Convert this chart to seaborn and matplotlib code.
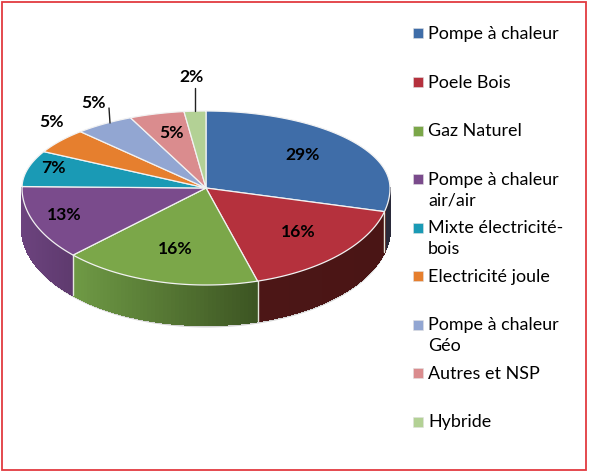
import numpy as np
import matplotlib
matplotlib.use("Agg")
import matplotlib.pyplot as plt
from matplotlib.patches import Polygon, Rectangle
import seaborn as sns

categories = ["Pompe à chaleur", "Poele Bois", "Gaz Naturel", "Pompe à chaleur\nair/air",
              "Mixte électricité-\nbois", "Electricité joule", "Pompe à chaleur\nGéo",
              "Autres et NSP", "Hybride"]
shares = [28.8, 16.5, 17.3, 12.4, 7.5, 5.2, 5.2, 4.8, 1.9]
pct_labels = ["29%", "16%", "16%", "13%", "7%", "5%", "5%", "5%", "2%"]

colors = ["#3F6DA8", "#B5313D", "#7BA749", "#7A4B8C", "#1A9AB5",
          "#E67F2E", "#92A6D2", "#DA8C8E", "#B3D195"]
# wall colours at the left and right end of each slice
wall_left = {0: "#2A2A3A", 1: "#4C1616", 2: "#6F9A45", 3: "#6C437E"}
wall_right = {0: "#2A2A3A", 1: "#4A1515", 2: "#3C5422", 3: "#5E3A6E"}

sns.set_theme(style="white")
plt.rcParams["font.family"] = ["Lato", "DejaVu Sans"]

fig, ax = plt.subplots(figsize=(5.89, 4.73), dpi=100)
fig.subplots_adjust(0, 0, 1, 1)

wedges, _ = ax.pie(shares, colors=sns.color_palette(colors), startangle=90, counterclock=False)
angles = [(w.theta1, w.theta2) for w in wedges]
for w in wedges:
    w.remove()

ax.set_aspect("auto")
ax.set_xlim(0, 589)
ax.set_ylim(473, 0)
ax.axis("off")

CX, CY, RX, RY_UP, RY_DOWN, DEPTH = 206, 188, 184, 77, 97, 40


def rim(theta):
    t = np.radians(theta)
    s = np.sin(t)
    return CX + RX * np.cos(t), CY - s * np.where(s > 0, RY_UP, RY_DOWN)


# soft shadow under the disc
t = np.linspace(180, 360, 100)
x, y = rim(t)
ax.fill_between(x, y + DEPTH, y + DEPTH + 2, color="#D4D4D4", lw=0, zorder=1)

# side walls, drawn as thin strips for the shading
for i, (t1, t2) in enumerate(angles):
    for w_t1, w_t2 in [(t1, t2), (t1 - 360, t2 - 360)]:
        a, b = max(w_t1, -180), min(w_t2, 0)
        if a >= b or i not in wall_left:
            continue
        left = np.array(matplotlib.colors.to_rgb(wall_left[i]))
        right = np.array(matplotlib.colors.to_rgb(wall_right[i]))
        edges = np.linspace(a, b, 50)
        xs, ys = rim(edges)
        span = xs.max() - xs.min()
        for k in range(len(edges) - 1):
            f = (xs[k] - xs.min()) / span
            quad = [(xs[k], ys[k]), (xs[k + 1], ys[k + 1]),
                    (xs[k + 1], ys[k + 1] + DEPTH), (xs[k], ys[k] + DEPTH)]
            c = tuple(left + (right - left) * f)
            ax.add_patch(Polygon(quad, closed=True, fc=c, ec=c, lw=1.0,
                                 antialiased=False, zorder=2))
        # pale line at the slice boundary
        if a == w_t1:
            ax.plot([xs[0], xs[0]], [ys[0], ys[0] + DEPTH], color="#E4E8DC", lw=1, zorder=3)

# top of the disc
for (t1, t2), c in zip(angles, colors):
    xs, ys = rim(np.linspace(t1, t2, 80))
    pts = np.column_stack([np.r_[CX, xs], np.r_[CY, ys]])
    ax.add_patch(Polygon(pts, closed=True, fc=c, ec="#F2F2F2", lw=0.9, zorder=4))

label_pos = [(303, 155), (298, 232), (175, 249), (64, 215), (53, 168),
             (51, 122), (94, 103), (172, 133), (191, 77)]
for txt, (lx, ly) in zip(pct_labels, label_pos):
    ax.text(lx, ly, txt, ha="center", va="center", fontsize=12.6, fontweight="bold",
            color="black", zorder=6)

# leader lines
ax.plot([109, 110], [108, 123], color="#222222", lw=1, zorder=5)
ax.plot([195, 195], [88, 111], color="#222222", lw=1, zorder=5)

# legend rows are evenly spaced, whatever the number of text lines
for i, (name, c) in enumerate(zip(categories, colors)):
    row = 33.5 + 48.5 * i
    ax.add_patch(Rectangle((413, row - 5), 10, 10, fc=c, ec="#E0E0E0", lw=0.4, zorder=5))
    ax.text(428, row - 7.5, name, ha="left", va="top", fontsize=12.9, color="black",
            linespacing=1.42, zorder=5)

# red frame
ax.add_patch(Rectangle((2, 2), 583.5, 468, fc="none", ec="#E23A40", lw=1.3, zorder=7))

fig.savefig("out.png", dpi=100)
